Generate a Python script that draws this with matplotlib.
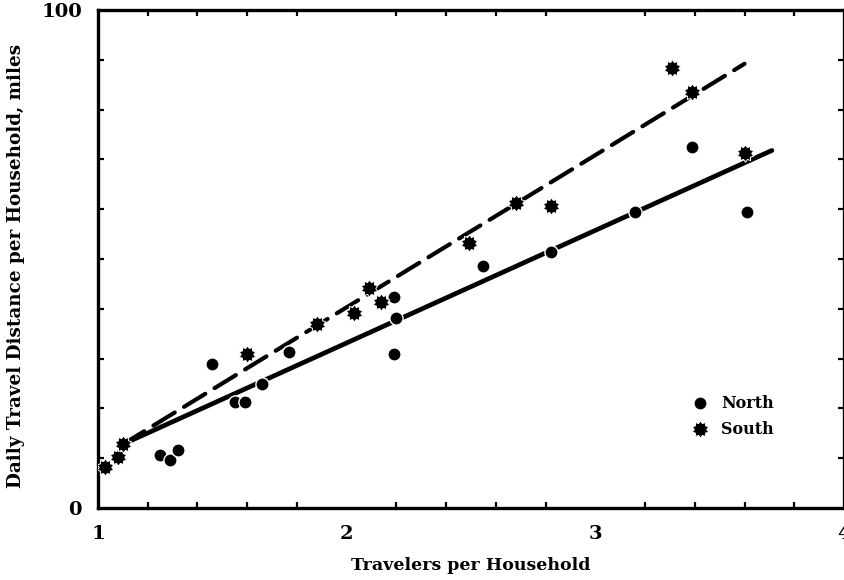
import numpy as np
import matplotlib
matplotlib.use("Agg")
import matplotlib.pyplot as plt
from matplotlib.path import Path
from matplotlib.ticker import MultipleLocator, FixedLocator

# North observations (circles)
north_x = [1.25, 1.29, 1.32, 1.46, 1.55, 1.59, 1.66, 1.77,
           2.19, 2.20, 2.19, 2.55, 2.82, 3.16, 3.39, 3.61]
north_y = [10.6, 9.6, 11.6, 29.0, 21.2, 21.2, 25.0, 31.4,
           42.4, 38.2, 31.0, 48.6, 51.4, 59.4, 72.4, 59.4]

# South observations (stars)
south_x = [1.03, 1.08, 1.10, 1.60, 1.88, 2.03, 2.09, 2.14,
           2.49, 2.68, 2.82, 3.31, 3.39, 3.60]
south_y = [8.2, 10.2, 12.8, 31.0, 37.0, 39.2, 44.2, 41.4,
           53.2, 61.2, 60.6, 88.4, 83.6, 71.2]

# fitted lines (end points)
north_fit_x = [1.10, 3.71]
north_fit_y = [12.8, 71.8]
south_fit_x = [1.10, 3.60]
south_fit_y = [12.8, 89.2]

x_tick_labels = ["1", "2", "3", "4"]
y_tick_labels = ["0", "100"]

FONT = "DejaVu Serif"

# spiky "sunburst" marker
n_pts = 10
ang = np.linspace(0, 2 * np.pi, 2 * n_pts, endpoint=False) + np.pi / 2
rad = np.where(np.arange(2 * n_pts) % 2 == 0, 1.0, 0.72)
verts = np.column_stack([rad * np.cos(ang), rad * np.sin(ang)])
verts = np.vstack([verts, verts[0]])
star = Path(verts, closed=True)

fig = plt.figure(figsize=(8.45, 5.8), dpi=100)
ax = fig.add_axes([98 / 845, 1 - 508 / 580, 746 / 845, 498 / 580])

ax.plot(north_fit_x, north_fit_y, color="black", lw=3.4,
        solid_capstyle="round", zorder=2)
ax.plot(south_fit_x, south_fit_y, color="black", lw=3.0,
        dashes=(6, 2.6), dash_capstyle="round", zorder=2)

ax.plot(north_x, north_y, linestyle="none", marker="o", ms=9.5,
        mfc="black", mec="white", mew=1.0, zorder=3, label="North")
ax.plot(south_x, south_y, linestyle="none", marker=star, ms=12.5,
        mfc="black", mec="white", mew=0.7, zorder=3, label="South")

ax.set_xlim(1, 4)
ax.set_ylim(0, 100)

ax.xaxis.set_major_locator(FixedLocator([1, 2, 3, 4]))
ax.set_xticklabels(x_tick_labels)
ax.xaxis.set_minor_locator(MultipleLocator(0.2))
ax.yaxis.set_major_locator(FixedLocator([0, 100]))
ax.set_yticklabels(y_tick_labels)
ax.yaxis.set_minor_locator(MultipleLocator(10))

ax.tick_params(which="both", direction="in", top=True, right=True,
               width=1.6, color="black")
ax.tick_params(which="major", length=0)
ax.tick_params(axis="x", which="major", pad=12)
ax.tick_params(axis="y", which="major", pad=11.5)
ax.tick_params(which="minor", length=4)

for lab in ax.get_xticklabels() + ax.get_yticklabels():
    lab.set_fontfamily(FONT)
    lab.set_fontweight("bold")
    lab.set_fontsize(14)

for sp in ax.spines.values():
    sp.set_linewidth(2.4)

ax.set_xlabel("Travelers per Household", fontfamily=FONT,
              fontweight="bold", fontsize=12.5)
ax.set_ylabel("Daily Travel Distance per Household, miles", fontfamily=FONT,
              fontweight="bold", fontsize=13.2)
ax.xaxis.set_label_coords(0.5, -0.098)
ax.yaxis.set_label_coords(-0.098, 0.487)

leg = ax.legend(loc="upper left", bbox_to_anchor=(0.788, 0.239),
                frameon=False, handletextpad=0.8, labelspacing=0.55,
                handlelength=1.0, borderaxespad=0,
                prop={"family": FONT, "weight": "bold", "size": 11.5})

fig.savefig("out.png", dpi=100)
